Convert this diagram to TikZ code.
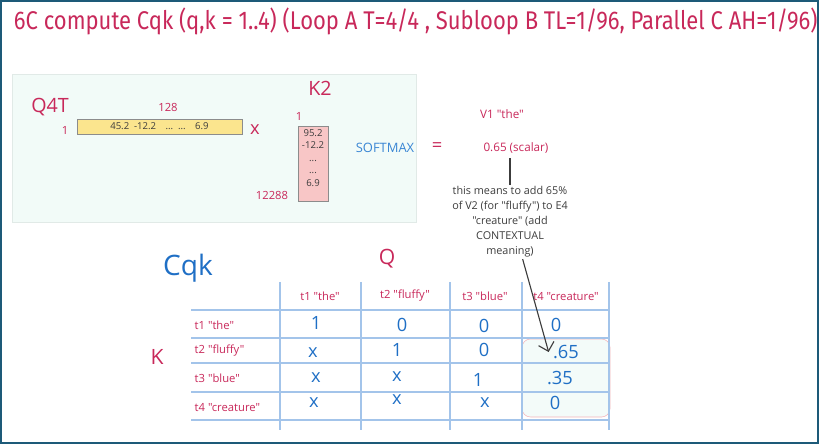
\documentclass[tikz,border=0pt]{standalone}
\usepackage{fontspec}
\newfontfamily\bodyfont{Open Sans}
\newfontfamily\headfont[FakeStretch=0.86]{Fira Sans}
\usetikzlibrary{arrows.meta,calc,backgrounds}
\definecolor{crim}{HTML}{C8285A}
\definecolor{tblue}{HTML}{1F6FC5}
\definecolor{smblue}{HTML}{3A86D4}
\definecolor{gridln}{HTML}{A3C4EA}
\definecolor{notetx}{HTML}{3C3C3C}
\definecolor{panel}{HTML}{F2FBF8}
\definecolor{panelln}{HTML}{E1EAE7}
\definecolor{qbar}{HTML}{FBE58E}
\definecolor{kbar}{HTML}{F8C6C6}
\definecolor{barln}{HTML}{8C8C8C}
\definecolor{hlbox}{HTML}{F2B3B8}
\definecolor{hlfill}{HTML}{F3FBF9}
\definecolor{framec}{HTML}{1D5A78}
\newcommand{\fs}[1]{\fontsize{#1}{1.2\dimexpr#1pt\relax}\selectfont}
\newcommand{\val}[3]{%
  \node[font=\fs{13},text=tblue,inner sep=1pt] (#1) at #2 {#3};}
\newcommand{\lbl}[3]{%
  \node[font=\fs{8},text=crim,inner sep=1pt] (#1) at #2 {#3};}

\begin{document}
\bodyfont
\begin{tikzpicture}[x=0.025cm,y=-0.025cm]
  \useasboundingbox (0,0) rectangle (819,444);
  \draw[framec,line width=1.4pt] (0.6,0.6) rectangle (818.4,443.4);

  \node[anchor=west,font=\headfont\fs{18.2},text=crim] (title) at (9,21)
       {6C compute Cqk (q,k = 1..4) (Loop A T=4/4 , Subloop B TL=1/96, Parallel C AH=1/96)};

  % Q4T times K2 panel
  \draw[panelln,fill=panel] (12,74) rectangle (416,222);
  \node[font=\fs{14},text=crim] (q4t) at (50,107) {Q4T};
  \node[font=\fs{8},text=crim] (qcols) at (168,107) {128};
  \node[font=\fs{8},text=crim] (qrows) at (65,130) {1};
  \node[draw=barln,fill=qbar,minimum width=4.125cm,minimum height=0.375cm,
        inner sep=0pt,font=\fs{6.8},text=notetx] (qbar) at (159.5,126.5)
       {45.2\enspace -12.2\quad ...\enspace ...\quad 6.9};
  \node[font=\fs{13},text=crim] (times) at (255,130) {x};
  \node[font=\fs{14},text=crim] (k2) at (320,88) {K2};
  \node[font=\fs{8},text=crim] (kcols) at (299,116) {1};
  \node[draw=barln,fill=kbar,minimum width=0.75cm,minimum height=1.875cm,
        inner sep=0pt] (kbar) at (313,163.5) {};
  \node[anchor=north,align=center,font=\fontsize{6.8}{8.9}\selectfont,
        text=notetx,inner sep=0pt] (kvals) at (313,129)
       {95.2\\-12.2\\...\\...\\6.9};
  \node[font=\fs{8},text=crim] (krows) at (272,195) {12288};
  \node[font=\fs{9.2},text=smblue] (smax) at (385,148) {SOFTMAX};
  \node[font=\fs{13},text=crim] (eq) at (437,147) {=};
  \node[font=\fs{8.3},text=crim] (v1) at (502,114) {V1 "the"};
  \node[font=\fs{8.3},text=crim] (scal) at (516,148) {0.65 (scalar)};
  \node[align=center,font=\fontsize{7.7}{10.7}\selectfont,text=notetx,inner sep=1pt]
       (note) at (510,222)
       {this means to add 65\%\\of V2 (for "fluffy") to E4\\"creature" (add\\
        CONTEXTUAL\\meaning)};
  \draw[notetx,line width=0.8pt] (note.north |- scal.south) -- (note.north);

  % Cqk table
  \node[font=\fs{20},text=tblue] (cqk) at (188,268) {Cqk};
  \node[font=\fs{15},text=crim] (qhead) at (387,259) {Q};
  \node[font=\fs{15},text=crim] (khead) at (157,357) {K};
  \draw[hlbox,fill=hlfill,rounded corners=6pt] (522,339) rectangle (610,417);
  \begin{scope}[gridln,line width=0.9pt]
    \foreach \x in {280,361,450,522,609}
      \draw (\x,282) -- (\x,430);
    \foreach \y in {310,338,363,392,420}
      \draw (191,\y) -- (609,\y);
  \end{scope}
  \lbl{q1}{(320,296)}{t1 "the"}
  \lbl{q2}{(405,296)}{t2 "fluffy"}
  \lbl{q3}{(485,296)}{t3 "blue"}
  \lbl{q4}{(566,297)}{t4 "creature"}
  \foreach \n/\t/\y in {k1/t1 "the"/325, k2/t2 "fluffy"/351, k3/t3 "blue"/378,
                        k4/t4 "creature"/408}
    \node[anchor=west,font=\fs{8},text=crim,inner sep=1pt] (\n) at (193,\y) {\t};

  \val{c11}{(316,323)}{1}  \val{c12}{(402,325)}{0}
  \val{c13}{(484,326)}{0}  \val{c14}{(556,325)}{0}
  \val{c21}{(313,353)}{x}  \val{c22}{(397,350)}{1}
  \val{c23}{(484,350)}{0}  \val{c24}{(566,352)}{.65}
  \val{c31}{(316,378)}{x}  \val{c32}{(397,377)}{x}
  \val{c33}{(478,380)}{1}  \val{c34}{(560,378)}{.35}
  \val{c41}{(314,403)}{x}  \val{c42}{(397,400)}{x}
  \val{c43}{(485,403)}{x}  \val{c44}{(555,403)}{0}

  \draw[notetx,line width=0.8pt,-{Straight Barb[length=2mm]}]
       ([xshift=9pt]note.south) -- ([xshift=-2pt]c24.west);
\end{tikzpicture}
\end{document}
